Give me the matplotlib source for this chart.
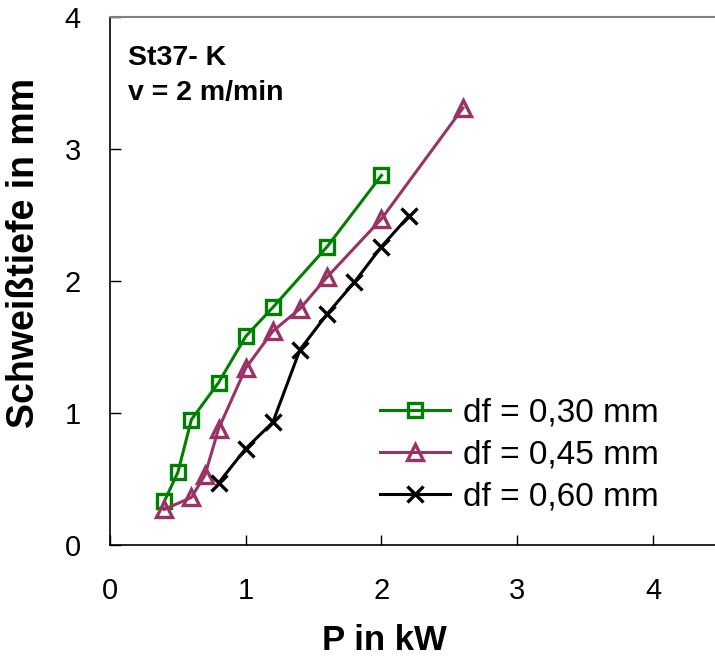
import matplotlib
matplotlib.use("Agg")
import matplotlib.pyplot as plt

# font like Arial
plt.rcParams['font.family'] = ['Liberation Sans', 'DejaVu Sans']

# values (P in kW, Schweisstiefe in mm)
p_030 = [0.4, 0.5, 0.6, 0.8, 1.0, 1.2, 1.6, 2.0]
depth_030 = [0.33, 0.55, 0.95, 1.23, 1.58, 1.80, 2.26, 2.80]

p_045 = [0.4, 0.6, 0.7, 0.8, 1.0, 1.2, 1.4, 1.6, 2.0, 2.6]
depth_045 = [0.27, 0.36, 0.53, 0.88, 1.34, 1.62, 1.79, 2.03, 2.47, 3.31]

p_060 = [0.8, 1.0, 1.2, 1.4, 1.6, 1.8, 2.0, 2.2]
depth_060 = [0.47, 0.73, 0.93, 1.48, 1.75, 1.99, 2.26, 2.49]

labels = ['df = 0,30 mm', 'df = 0,45 mm', 'df = 0,60 mm']
x_ticks = [0, 1, 2, 3, 4]
y_ticks = [0, 1, 2, 3, 4]

fig = plt.figure(figsize=(7.15, 6.57), dpi=100)
# axes runs off the right edge of the picture
ax = fig.add_axes([0.1538, 0.1705, 0.8462, 0.8037])

# the three curves, hollow markers so the line shows through
ax.plot(p_030, depth_030, color='#008000', lw=2.2, marker='s', ms=10.5,
        mfc='none', mew=2.4, label=labels[0])
ax.plot(p_045, depth_045, color='#993366', lw=2.2, marker='^', ms=11.5,
        mfc='none', mew=2.4, label=labels[1])
ax.plot(p_060, depth_060, color='black', lw=2.2, marker='x', ms=11.5,
        mew=2.4, label=labels[2])

ax.set_xlim(0, 4.457)
ax.set_ylim(0, 4)
ax.set_xticks(x_ticks)
ax.set_yticks(y_ticks)
ax.tick_params(axis='x', direction='in', length=7, width=1, pad=23, labelsize=21)
ax.tick_params(axis='y', direction='in', length=8, width=1, pad=21, labelsize=21)

# frame: black left/bottom, grey top, no right
ax.spines['right'].set_visible(False)
ax.spines['top'].set_color('#808080')
ax.spines['top'].set_linewidth(1.5)
ax.spines['left'].set_linewidth(1.2)
ax.spines['bottom'].set_linewidth(1.2)

# axis titles placed by hand
fig.text(24 / 715, 1 - 253 / 657, 'Schweißtiefe in mm', rotation=90,
         ha='center', va='center', fontsize=27, fontweight='bold')
fig.text(384 / 715, 1 - 650 / 657, 'P in kW', ha='center', va='baseline',
         fontsize=25, fontweight='bold')

# material note in the corner
fig.text(128 / 715, 1 - 65 / 657, 'St37- K', ha='left', va='baseline',
         fontsize=20.5, fontweight='bold')
fig.text(128 / 715, 1 - 100 / 657, 'v = 2 m/min', ha='left', va='baseline',
         fontsize=20.5, fontweight='bold')

ax.legend(loc='upper left', bbox_to_anchor=(380 / 715, 1 - 398 / 657),
          bbox_transform=fig.transFigure, frameon=False, fontsize=24,
          handlelength=2.1, handletextpad=0.4, labelspacing=0.33,
          borderpad=0, borderaxespad=0)

plt.savefig('out.png', dpi=100)
